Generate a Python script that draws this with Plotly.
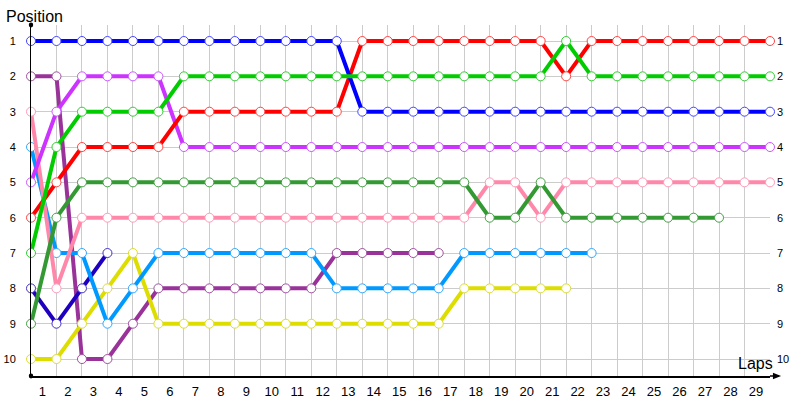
import plotly.graph_objects as go

laps_labels = list(range(1, 30))
positions = list(range(1, 11))

blue = [1]*13 + [3]*17
red = [6, 5, 4, 4, 4, 4, 3, 3, 3, 3, 3, 3, 3, 1, 1, 1, 1, 1, 1, 1, 1, 2, 1, 1, 1, 1, 1, 1, 1, 1]
green = [7, 4, 3, 3, 3, 3, 2, 2, 2, 2, 2, 2, 2, 2, 2, 2, 2, 2, 2, 2, 2, 1, 2, 2, 2, 2, 2, 2, 2, 2]
violet = [5, 3, 2, 2, 2, 2] + [4]*24
darkgreen = [9, 6, 5, 5, 5, 5, 5, 5, 5, 5, 5, 5, 5, 5, 5, 5, 5, 5, 6, 6, 5, 6, 6, 6, 6, 6, 6, 6]
pink = [3, 8, 6, 6, 6, 6, 6, 6, 6, 6, 6, 6, 6, 6, 6, 6, 6, 6, 5, 5, 6, 5, 5, 5, 5, 5, 5, 5, 5, 5]
plum = [2, 2, 10, 10, 9, 8, 8, 8, 8, 8, 8, 8, 7, 7, 7, 7, 7]
navy = [8, 9, 8, 7]
lightblue = [4, 7, 7, 9, 8, 7, 7, 7, 7, 7, 7, 7, 8, 8, 8, 8, 8, 7, 7, 7, 7, 7, 7]
yellow = [10, 10, 9, 8, 7, 9, 9, 9, 9, 9, 9, 9, 9, 9, 9, 9, 9, 8, 8, 8, 8, 8]

series = [
    ("plum", plum, "#993399", "#a050a0"),
    ("navy", navy, "#2000c0", "#4030c8"),
    ("yellow", yellow, "#dddd00", "#dddd30"),
    ("lightblue", lightblue, "#0099ff", "#30a8ff"),
    ("pink", pink, "#ff88aa", "#ff99b8"),
    ("darkgreen", darkgreen, "#339933", "#44a044"),
    ("violet", violet, "#cc33ff", "#cc55ff"),
    ("red", red, "#ff0000", "#ff4444"),
    ("blue", blue, "#0000ff", "#4444ff"),
    ("green", green, "#00cc00", "#33cc33"),
]

fig = go.Figure()
for name, vals, col, mcol in series:
    fig.add_trace(go.Scatter(
        x=list(range(len(vals))), y=vals, mode="lines+markers", name=name,
        line=dict(color=col, width=4),
        marker=dict(size=9, color="white", line=dict(color=mcol, width=1)),
        cliponaxis=False, showlegend=False, yaxis="y",
    ))

# dummy trace for right axis
fig.add_trace(go.Scatter(x=[0], y=[1], yaxis="y2", mode="markers",
                         marker=dict(opacity=0), showlegend=False, hoverinfo="skip"))

font = "Liberation Sans, Arial, sans-serif"
yrange = [10.48, 0.547]
fig.update_layout(
    width=800, height=400,
    margin=dict(l=31, r=30, t=25, b=24, autoexpand=False),
    paper_bgcolor="white", plot_bgcolor="white",
    font=dict(family=font, color="black"),
    xaxis=dict(
        range=[0, 29], tickvals=laps_labels, ticktext=[str(v) for v in laps_labels],
        showgrid=True, gridcolor="#cccccc", gridwidth=1, zeroline=False,
        showline=True, linecolor="black", linewidth=1.5, automargin=False,
        ticks="", ticklabelshift=-14, ticklabelstandoff=3,
        tickfont=dict(size=13, family=font),
    ),
    yaxis=dict(
        range=yrange, tickvals=positions, ticktext=[str(v) for v in positions],
        showgrid=True, gridcolor="#cccccc", gridwidth=1, zeroline=False,
        showline=True, linecolor="black", linewidth=1, automargin=False,
        ticks="", ticklabelstandoff=12,
        tickfont=dict(size=11, family=font),
    ),
    yaxis2=dict(
        range=yrange, tickvals=positions, ticktext=[str(v) for v in positions],
        overlaying="y", side="right", showgrid=False, zeroline=False,
        showline=False, ticks="", ticklabelstandoff=6, automargin=False,
        tickfont=dict(size=11, family=font),
    ),
    shapes=[
        dict(type="line", xref="paper", yref="paper", x0=1, x1=1.012, y0=0, y1=0,
             line=dict(color="black", width=1.5)),
        dict(type="path", xref="paper", yref="paper",
             path="M 1.004 -0.009 L 1.015 0 L 1.004 0.009 Z",
             fillcolor="black", line=dict(color="black", width=0)),
        dict(type="circle", xref="paper", yref="paper",
             x0=-0.003, x1=0.003, y0=0.993, y1=1.007,
             fillcolor="black", line=dict(color="black", width=0)),
        dict(type="circle", xref="paper", yref="paper",
             x0=-0.003, x1=0.003, y0=-0.007, y1=0.007,
             fillcolor="black", line=dict(color="black", width=0)),
    ],
    annotations=[
        dict(text="Position", xref="paper", yref="paper", x=-0.037, y=1.0,
             xanchor="left", yanchor="bottom", showarrow=False, yshift=-2,
             font=dict(size=16, family=font)),
        dict(text="Laps", xref="paper", yref="paper", x=1.007, y=0.0,
             xanchor="right", yanchor="bottom", showarrow=False, yshift=2,
             font=dict(size=16, family=font)),
    ],
)

fig.write_html("out.html", config={"displayModeBar": False},
               post_script="document.body.style.margin='0';document.body.style.overflow='hidden';")
